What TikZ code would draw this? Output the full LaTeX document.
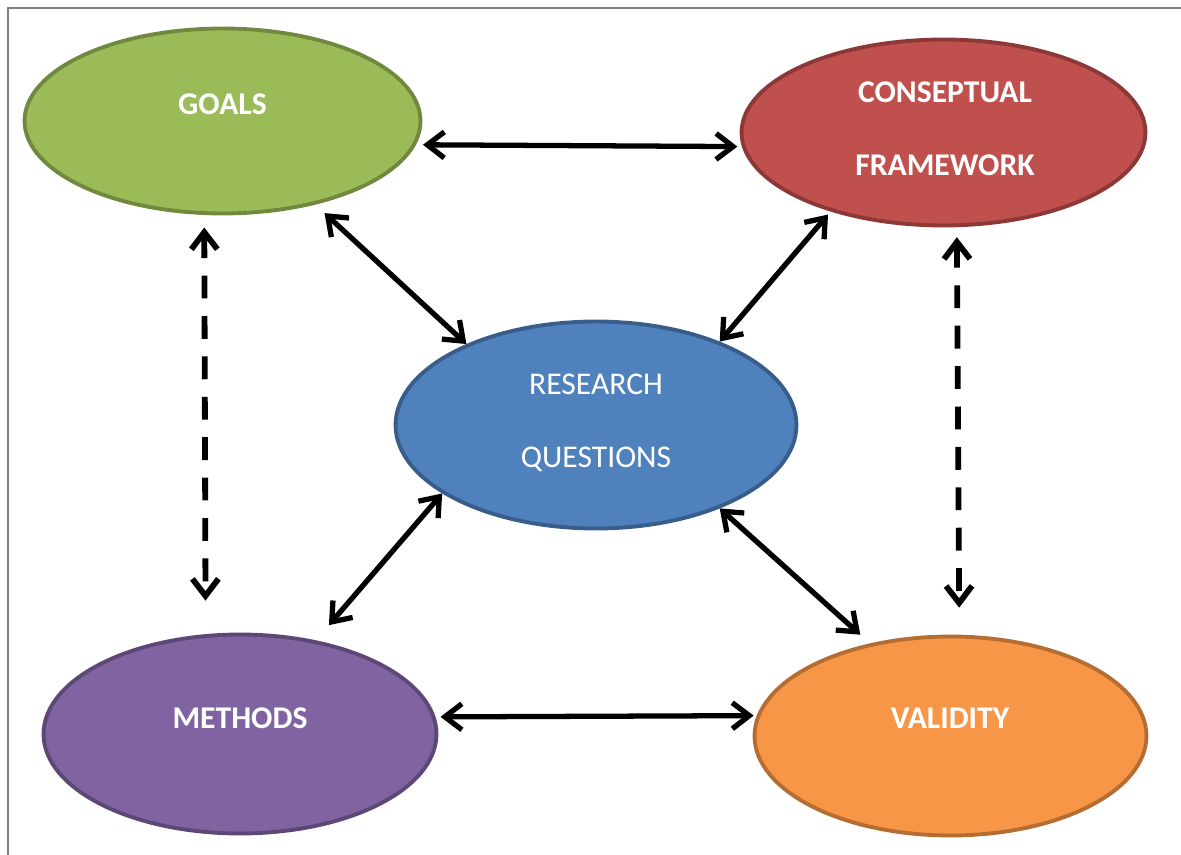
\documentclass[tikz,border=0pt]{standalone}
\usepackage{fontspec}
\setmainfont{Carlito}
\usetikzlibrary{shapes.geometric, arrows.meta}

\definecolor{goalsfill}{HTML}{9BBB59}
\definecolor{goalsline}{HTML}{71893F}
\definecolor{cfwfill}{HTML}{C0504D}
\definecolor{cfwline}{HTML}{8C3836}
\definecolor{rqfill}{HTML}{4F81BD}
\definecolor{rqline}{HTML}{385D8A}
\definecolor{methfill}{HTML}{8064A2}
\definecolor{methline}{HTML}{5C4776}
\definecolor{valfill}{HTML}{F79646}
\definecolor{valline}{HTML}{B66D31}

\begin{document}
\begin{tikzpicture}[x=0.02cm, y=-0.02cm,
	bubble/.style={shape=ellipse, line width=2.2pt, inner sep=0pt},
	caption/.style={text=white, align=center, font=\fontsize{18}{41.5}\selectfont\bfseries},
	link/.style={{Straight Barb[length=0.34cm, width=0.52cm]}-{Straight Barb[length=0.34cm, width=0.52cm]}, line width=3pt},
	dashlink/.style={link, line width=3.3pt, dash pattern={on 13pt off 10pt}}]
	\useasboundingbox (0, 0) rectangle (1181, 855);
	\draw[line width=0.04cm, draw={rgb,255:red,128;green,128;blue,128}] (1200, 8) -- (8, 8) -- (8, 870);
	% Ellipses and their captions:
	\node[bubble, fill=goalsfill, draw=goalsline, minimum width=7.92cm, minimum height=3.70cm] (goals) at (222.5, 121){} node[caption, anchor=base] (goalstext) at (222.5, 115){GOALS};
	\node[bubble, fill=cfwfill, draw=cfwline, minimum width=8.08cm, minimum height=3.72cm] (cf) at (943.5, 132.5){} node[caption] (cftext) at (945, 128.5){CONSEPTUAL\\FRAMEWORK};
	\node[bubble, fill=rqfill, draw=rqline, minimum width=8.02cm, minimum height=4.14cm] (rq) at (596, 425){} node[caption, font=\fontsize{18}{41.5}\selectfont] (rqtext) at (596, 423){RESEARCH\\QUESTIONS};
	\node[bubble, fill=methfill, draw=methline, minimum width=7.86cm, minimum height=3.98cm] (methods) at (240, 734){} node[caption, anchor=base] (methodstext) at (240, 728){METHODS};
	\node[bubble, fill=valfill, draw=valline, minimum width=7.84cm, minimum height=3.98cm] (validity) at (950.5, 736){} node[caption, anchor=base] (validitytext) at (950, 728){VALIDITY};
	% Two-way links:
	\draw[link, shorten <=0.14cm, shorten >=0.09cm] (goals.-7.4) -- (cf.184.3);
	\draw[link, shorten <=0.25cm] (goals.-42.4) -- (rq.148);
	\draw[link, shorten <=0.08cm] (cf.215.1) -- (rq.34.2);
	\draw[link, shorten >=0.4cm] (rq.204.9) -- (methods.51.6);
	\draw[link, shorten >=0.26cm] (rq.-34) -- (validity.131);
	\draw[link, shorten <=0.1cm, shorten >=0.06cm] (methods.5.3) -- (validity.174.7);
	\draw[dashlink, shorten <=0.25cm, shorten >=0.67cm] (goals.259.2) -- (methods.109.7);
	\draw[dashlink, shorten <=0.2cm, shorten >=0.54cm] (cf.278.9) -- (validity.85.7);
\end{tikzpicture}
\end{document}
